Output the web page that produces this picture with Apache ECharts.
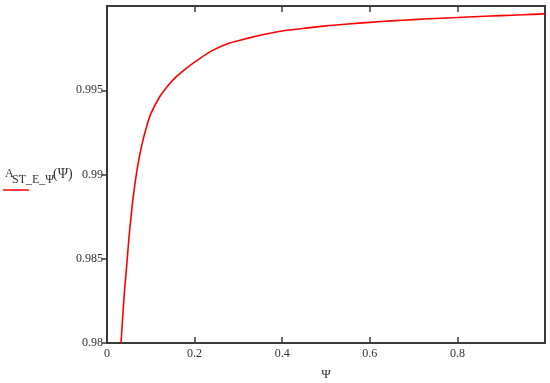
<!DOCTYPE html>
<html>
<head>
<meta charset="utf-8">
<script src="https://cdn.jsdelivr.net/npm/echarts@6/dist/echarts.min.js"></script>
<style>html,body{margin:0;padding:0;background:#fff}#c{width:550px;height:383px}</style>
</head>
<body>
<div id="c"></div>
<script>
// Data
var psi = [0.032, 0.036, 0.040, 0.045, 0.050, 0.055, 0.060, 0.070, 0.080, 0.090, 0.100, 0.120, 0.140, 0.160, 0.180, 0.200, 0.240, 0.280, 0.320, 0.360, 0.400, 0.450, 0.500, 0.550, 0.600, 0.650, 0.700, 0.750, 0.800, 0.850, 0.900, 0.950, 1.000];
var aValues = [0.9800, 0.9816, 0.9831, 0.9846, 0.9862, 0.9875, 0.9887, 0.9905, 0.9918, 0.9928, 0.9936, 0.9946, 0.9953, 0.99585, 0.99628, 0.99667, 0.99735, 0.99780, 0.99808, 0.99832, 0.99852, 0.99868, 0.99882, 0.99893, 0.99903, 0.99912, 0.99919, 0.99926, 0.99932, 0.99938, 0.99943, 0.99948, 0.99953];
var xTicks = [0, 0.2, 0.4, 0.6, 0.8];
var yTicks = [0.98, 0.985, 0.99, 0.995];
var xName = 'Ψ';
var seriesName = 'A_ST_E_Ψ(Ψ)';

var serif = '"Liberation Serif","DejaVu Serif",serif';
var axisColor = '#3a3a3a';
var textColor = '#333';

var chart = echarts.init(document.getElementById('c'));
chart.setOption({
  animation: false,
  grid: { left: 107, right: 5, top: 6, bottom: 40, show: true, borderColor: axisColor, borderWidth: 2, backgroundColor: 'transparent', containLabel: false, outerBoundsMode: 'none' },
  xAxis: [{
    type: 'value', min: 0, max: 1, interval: 0.2, position: 'bottom',
    name: xName, nameLocation: 'middle', nameGap: 25,
    nameTextStyle: { fontFamily: serif, fontSize: 13, color: textColor },
    axisLine: { show: true, lineStyle: { color: axisColor, width: 2 } },
    axisTick: { show: true, inside: true, length: 6, lineStyle: { color: axisColor, width: 1.5 } },
    axisLabel: { show: true, fontFamily: serif, fontSize: 12, color: textColor, margin: 5, showMaxLabel: false,
      formatter: function (v) { var r = Math.round(v * 10) / 10; return xTicks.indexOf(r) >= 0 ? String(r) : ''; } },
    splitLine: { show: false }
  }, {
    type: 'value', min: 0, max: 1, interval: 0.2, position: 'top',
    axisLine: { show: true, lineStyle: { color: axisColor, width: 2 } },
    axisTick: { show: true, inside: true, length: 6, lineStyle: { color: axisColor, width: 1.5 } },
    axisLabel: { show: false },
    splitLine: { show: false }
  }],
  yAxis: {
    type: 'value', min: 0.98, max: 1.0, interval: 0.005,
    axisLine: { show: true, lineStyle: { color: axisColor, width: 2 } },
    axisTick: { show: true, inside: false, length: 5, lineStyle: { color: axisColor, width: 1.5 } },
    axisLabel: { show: true, fontFamily: serif, fontSize: 12, color: textColor, margin: 4, showMaxLabel: false,
      formatter: function (v) { var r = Math.round(v * 1000) / 1000; return yTicks.indexOf(r) >= 0 ? String(r) : ''; } },
    splitLine: { show: false }
  },
  series: [{
    name: seriesName, type: 'line', xAxisIndex: 0, showSymbol: false, symbol: 'none',
    smooth: 0.3,
    lineStyle: { color: '#ff0000', width: 1.6 }, clip: true,
    data: psi.map(function (x, i) { return [x, aValues[i]]; })
  }],
  graphic: [
    { type: 'text', left: 5, top: 168, style: { text: 'A', font: '12px ' + serif, fill: textColor } },
    { type: 'text', left: 12, top: 174, style: { text: 'ST_E_Ψ', font: '12px ' + serif, fill: textColor } },
    { type: 'text', left: 53, top: 167, style: { text: '(Ψ)', font: '14px ' + serif, fill: textColor } },
    { type: 'line', shape: { x1: 3, y1: 190, x2: 29, y2: 190 }, style: { stroke: '#ff0000', lineWidth: 1.5 } }
  ]
});
</script>
</body>
</html>
